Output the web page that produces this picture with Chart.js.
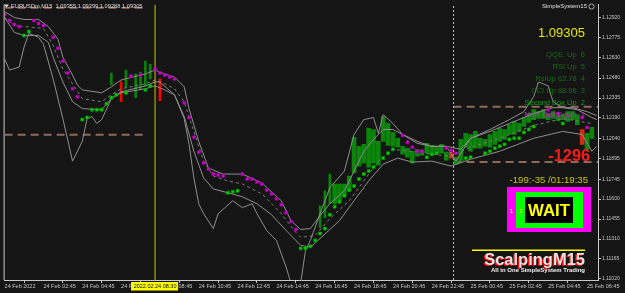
<!DOCTYPE html>
<html>
<head>
<meta charset="utf-8">
<script src="https://cdn.jsdelivr.net/npm/chart.js@4.4.0/dist/chart.umd.min.js"></script>
<style>
html, body { margin: 0; padding: 0; background: #151515; }
#wrap { width: 625px; height: 293px; }
</style>
</head>
<body>
<div id="wrap"><canvas id="mtChart" width="625" height="293"></canvas></div>
<script>
// EURUSDm M15, bar 0 = 24 Feb 00:45, one bar per 15 minutes
const xTickBars = [0, 8, 16, 24, 32, 40, 48, 56, 64, 72, 80, 88, 96, 104, 112, 120];
const xTickLabels = ['24 Feb 2022', '24 Feb 02:45', '24 Feb 04:45', '24 Feb 06:45', '24 Feb 08:45',
  '24 Feb 10:45', '24 Feb 12:45', '24 Feb 14:45', '24 Feb 16:45', '24 Feb 18:45', '24 Feb 20:45',
  '24 Feb 22:45', '25 Feb 00:45', '25 Feb 02:45', '25 Feb 04:45', '25 Feb 06:45'];
const yTicks = [1.12920, 1.12775, 1.12630, 1.12480, 1.12335, 1.12190, 1.12040, 1.11895,
  1.11745, 1.11600, 1.11455, 1.11310, 1.11165, 1.11020];
const yMin = 1.11012;
const yMax = 1.13014;
const xMax = 122.26;

// thin histogram bars (left part)
const thinBar = [22, 24, 25, 27, 28, 29, 30, 32, 65, 66, 67];
const thinLow = [1.12430, 1.12308, 1.12409, 1.12337, 1.12402, 1.12423, 1.12474, 1.12315, 1.11394, 1.11466, 1.11566];
const thinHigh = [1.12517, 1.12452, 1.12538, 1.12510, 1.12524, 1.12603, 1.12582, 1.12474, 1.11552, 1.11660, 1.11782];
const thinDown = [24, 32];

// candle bodies from bar 68 to bar 121
const bodyFirst = 68;
const bodyLow = [1.11566, 1.11588, 1.11624, 1.11660, 1.11790, 1.11840, 1.11862, 1.11833, 1.11862, 1.11847,
  1.12020, 1.11991, 1.11984, 1.11977, 1.11926, 1.11905, 1.11862, 1.11912, 1.11919, 1.11934,
  1.11926, 1.11934, 1.11934, 1.11883, 1.11898, 1.11854, 1.11876, 1.11977, 1.11948, 1.11970,
  1.11970, 1.11984, 1.11977, 1.11998, 1.12020, 1.12034, 1.12070, 1.12070, 1.12092, 1.12128,
  1.12157, 1.12178, 1.12186, 1.12186, 1.12178, 1.12186, 1.12171, 1.12178, 1.12164, 1.12178,
  1.12142, 1.11998, 1.11962, 1.12042];
const bodyHigh = [1.11710, 1.11710, 1.11710, 1.11768, 1.12049, 1.11984, 1.11998, 1.12114, 1.12106, 1.12020,
  1.12200, 1.12150, 1.12085, 1.12042, 1.11984, 1.11970, 1.11948, 1.11962, 1.11955, 1.12006,
  1.11991, 1.11984, 1.11998, 1.11941, 1.11941, 1.11905, 1.12034, 1.12078, 1.12070, 1.12092,
  1.12042, 1.12034, 1.12070, 1.12092, 1.12114, 1.12106, 1.12142, 1.12164, 1.12150, 1.12193,
  1.12222, 1.12250, 1.12236, 1.12250, 1.12222, 1.12236, 1.12222, 1.12214, 1.12236, 1.12236,
  1.12214, 1.12106, 1.12078, 1.12121];
const bodyDown = [92, 119];

// envelope lines
const upperBar = [0, 2, 4, 7, 9, 11, 12, 14, 15, 16, 20, 22, 24, 29, 31, 33, 35, 37, 38, 40, 42, 45, 49, 53, 57, 59, 61, 63, 65, 67,
  70, 72, 74, 76, 78, 80, 82, 85, 88, 91, 94, 96, 100, 104, 109, 113, 117, 120, 122];
const upperPrice = [1.12963, 1.12920, 1.12906, 1.12906, 1.12855, 1.12762, 1.12632, 1.12502, 1.12430, 1.12394,
  1.12373, 1.12416, 1.12466, 1.12510, 1.12538, 1.12510, 1.12488, 1.12416, 1.12258, 1.12020,
  1.11826, 1.11782, 1.11782, 1.11718, 1.11588, 1.11444, 1.11379, 1.11386, 1.11480, 1.11566,
  1.11660, 1.11804, 1.11948, 1.12034, 1.12106, 1.12106, 1.12070, 1.12020, 1.11984, 1.11984,
  1.11962, 1.12042, 1.12092, 1.12150, 1.12222, 1.12265, 1.12265, 1.12236, 1.12207];
const middleBar = [0, 2, 8, 10, 12, 14, 16, 20, 22, 24, 29, 31, 33, 35, 37, 39, 41, 43, 46, 49,
  53, 57, 60, 61, 64, 67, 71, 74, 77, 80, 84, 88, 92, 96, 102, 109, 115, 121];
const middlePrice = [1.12920, 1.12862, 1.12841, 1.12718, 1.12546, 1.12438, 1.12330, 1.12308, 1.12358, 1.12402,
  1.12438, 1.12466, 1.12438, 1.12402, 1.12308, 1.12092, 1.11876, 1.11768, 1.11732, 1.11710,
  1.11638, 1.11494, 1.11358, 1.11322, 1.11336, 1.11458, 1.11588, 1.11732, 1.11876, 1.11962,
  1.11948, 1.11926, 1.11912, 1.11977, 1.12042, 1.12135, 1.12186, 1.12150];
const lowerBar = [0, 2, 4, 7, 9, 10, 12, 14, 16, 20, 22, 24, 29, 31, 33, 35, 37, 39, 41, 43,
  46, 49, 52, 55, 58, 61, 63, 65, 69, 72, 75, 78, 81, 84, 88, 92, 96, 102, 109, 115, 119, 121, 122];
const lowerPrice = [1.12920, 1.12812, 1.12790, 1.12790, 1.12740, 1.12632, 1.12452, 1.12308, 1.12258, 1.12250,
  1.12330, 1.12373, 1.12402, 1.12423, 1.12394, 1.12358, 1.12200, 1.11948, 1.11754, 1.11674,
  1.11646, 1.11617, 1.11566, 1.11487, 1.11372, 1.11264, 1.11250, 1.11314, 1.11444, 1.11588,
  1.11732, 1.11854, 1.11898, 1.11869, 1.11876, 1.11840, 1.11890, 1.11948, 1.12042, 1.12092,
  1.12070, 1.11948, 1.11984];
const wildBar = [0, 1, 3, 4, 5, 7, 8, 10, 12, 14, 16, 17, 18, 19, 20, 22, 24, 29, 31, 32,
  35, 37, 38, 39, 40, 41, 43, 44, 47, 49, 51, 52, 54, 56, 58, 59, 61, 62, 63, 65,
  67, 70, 72, 74, 76, 77, 78, 80, 82, 85, 88, 91, 93, 96, 100, 104, 107, 109, 110, 112,
  113, 115, 118, 121, 122];
const wildPrice = [1.12618, 1.12538, 1.12560, 1.12704, 1.12805, 1.12776, 1.12726, 1.12474, 1.12186, 1.11876,
  1.12020, 1.12186, 1.12200, 1.12150, 1.12178, 1.12330, 1.12380, 1.12423, 1.12452, 1.12452,
  1.12358, 1.12186, 1.11998, 1.11754, 1.11566, 1.11494, 1.11386, 1.11494, 1.11588, 1.11538,
  1.11566, 1.11494, 1.11372, 1.11300, 1.11106, 1.10990, 1.10990, 1.11228, 1.11300, 1.11494,
  1.11682, 1.11804, 1.12070, 1.12178, 1.12193, 1.12078, 1.12214, 1.12150, 1.12070, 1.12006,
  1.11984, 1.11984, 1.11876, 1.12042, 1.12106, 1.12178, 1.12236, 1.12344, 1.12452, 1.12423,
  1.12308, 1.12265, 1.12250, 1.12193, 1.12178];

// signal dots
const upDotBar = [4, 5, 16, 17, 18, 19, 20, 21, 22, 23, 25, 29, 30, 46, 47, 48, 61, 62, 63, 64,
  65, 66, 67, 68, 69, 70, 71, 72, 73, 74, 75, 76, 78, 79, 80, 87, 88, 89, 95, 96,
  99, 100, 101, 102, 103, 104, 105, 106, 107, 108, 109, 115];
const upDotPrice = [1.12790, 1.12819, 1.12178, 1.12193, 1.12250, 1.12250, 1.12250, 1.12294, 1.12337, 1.12358,
  1.12373, 1.12394, 1.12423, 1.11646, 1.11653, 1.11660, 1.11242, 1.11242, 1.11257, 1.11300,
  1.11350, 1.11386, 1.11487, 1.11545, 1.11581, 1.11624, 1.11667, 1.11696, 1.11746, 1.11782,
  1.11804, 1.11833, 1.11898, 1.11934, 1.11962, 1.11905, 1.11926, 1.11934, 1.11898, 1.11905,
  1.11934, 1.11948, 1.11970, 1.11984, 1.11998, 1.12034, 1.12042, 1.12042, 1.12085, 1.12106,
  1.12128, 1.12150];
const dnDotBar = [0, 1, 2, 3, 6, 7, 8, 10, 11, 12, 13, 14, 15, 26, 28, 31, 32, 33, 34, 35,
  37, 38, 39, 40, 41, 42, 43, 44, 45, 49, 50, 51, 52, 53, 54, 55, 56, 57, 58, 59,
  60, 82, 83, 84, 85, 86, 91, 92, 93, 112, 114, 119, 120];
const dnDotPrice = [1.12942, 1.12898, 1.12870, 1.12855, 1.12898, 1.12877, 1.12862, 1.12776, 1.12697, 1.12603,
  1.12517, 1.12402, 1.12344, 1.12495, 1.12502, 1.12546, 1.12517, 1.12502, 1.12488, 1.12474,
  1.12301, 1.12193, 1.12049, 1.11941, 1.11862, 1.11818, 1.11782, 1.11775, 1.11768, 1.11782,
  1.11746, 1.11746, 1.11725, 1.11710, 1.11667, 1.11638, 1.11602, 1.11559, 1.11502, 1.11437,
  1.11379, 1.12063, 1.12013, 1.11977, 1.11948, 1.11948, 1.11970, 1.11955, 1.11934, 1.12250,
  1.12222, 1.12193, 1.12121];

// horizontal levels and vertical markers
const levelPrice = [1.12992, 1.12067, 1.12272, 1.11869];
const levelFrom = [0, 0, 92.5, 92.5];
const levelTo = [29, 29, xMax, xMax];
const cursorBar = 31;      // 2022.02.24 08:30
const separatorBar = 92.5; // 25 Feb

const pts = (xs, ys) => xs.map((x, i) => ({ x: x, y: ys[i] }));

const thinData = dir => thinBar.map((b, i) => ({ x: b, y: [thinLow[i], thinHigh[i]] }))
  .filter(p => thinDown.includes(p.x) === (dir === 'down'));
const bodyData = dir => bodyLow.map((lo, i) => ({ x: bodyFirst + i, y: [lo, bodyHigh[i]] }))
  .filter(p => bodyDown.includes(p.x) === (dir === 'down'));

const datasets = [];
levelPrice.forEach((p, i) => {
  datasets.push({
    type: 'line', data: [{ x: levelFrom[i], y: p }, { x: levelTo[i], y: p }],
    borderColor: '#8f6a58', borderWidth: 2, borderDash: [8, 5], pointRadius: 0, order: 9
  });
});
datasets.push({
  type: 'line', data: [{ x: separatorBar, y: yMin }, { x: separatorBar, y: yMax }],
  borderColor: '#c8c8c8', borderWidth: 1, borderDash: [2, 2], pointRadius: 0, order: 8
});
datasets.push({ type: 'bar', data: thinData('up'), backgroundColor: '#0a820a', barThickness: 2, grouped: false, order: 6 });
datasets.push({ type: 'bar', data: thinData('down'), backgroundColor: '#ff0000', barThickness: 2, grouped: false, order: 6 });
datasets.push({ type: 'bar', data: bodyData('up'), backgroundColor: '#0b860b', borderWidth: 0, barThickness: 4, grouped: false, order: 6 });
datasets.push({ type: 'bar', data: bodyData('down'), backgroundColor: '#d42a10', barThickness: 4, grouped: false, order: 6 });
datasets.push({ type: 'line', data: pts(wildBar, wildPrice), borderColor: '#8e8e8e', borderWidth: 1, pointRadius: 0, order: 4 });
datasets.push({ type: 'line', data: pts(upperBar, upperPrice), borderColor: '#8e8e8e', borderWidth: 1, pointRadius: 0, order: 4 });
datasets.push({ type: 'line', data: pts(lowerBar, lowerPrice), borderColor: '#8e8e8e', borderWidth: 1, pointRadius: 0, order: 4 });
datasets.push({ type: 'line', data: pts(middleBar, middlePrice), borderColor: '#7c7c7c', borderWidth: 1, borderDash: [3, 3], pointRadius: 0, order: 4 });
datasets.push({
  type: 'line', data: [{ x: cursorBar, y: yMin }, { x: cursorBar, y: yMax }],
  borderColor: '#c8c800', borderWidth: 1, pointRadius: 0, order: 3
});
datasets.push({
  type: 'scatter', data: pts(upDotBar, upDotPrice), showLine: false,
  pointStyle: 'rect', pointRadius: 2.1, backgroundColor: '#00d800', borderColor: '#009000', borderWidth: 0.6, order: 1
});
datasets.push({
  type: 'scatter', data: pts(dnDotBar, dnDotPrice), showLine: false,
  pointStyle: 'rect', pointRadius: 2.1, backgroundColor: '#d800d8', borderColor: '#900090', borderWidth: 0.6, order: 1
});

const overlay = {
  id: 'overlay',
  beforeDraw(chart) {
    const c = chart.ctx;
    c.save();
    c.fillStyle = '#151515';
    c.fillRect(0, 0, chart.width, chart.height);
    c.restore();
  },
  afterDraw(chart) {
    const c = chart.ctx;
    const area = chart.chartArea;
    const xs = chart.scales.x;
    const txt = (s, x, y, font, color, align) => {
      c.font = font;
      c.fillStyle = color;
      c.textAlign = align || 'left';
      c.textBaseline = 'middle';
      c.fillText(s, x, y);
    };
    c.save();
    // left frame
    c.strokeStyle = '#c8c8c8';
    c.lineWidth = 1;
    c.beginPath();
    c.moveTo(area.left - 0.5, area.top);
    c.lineTo(area.left - 0.5, area.bottom);
    c.stroke();

    // header
    c.fillStyle = '#dcdcdc';
    c.beginPath();
    c.moveTo(4, 4.5); c.lineTo(9, 4.5); c.lineTo(6.5, 7.5); c.closePath(); c.fill();
    txt('EURUSDm,M15  1.09355 1.09399 1.09288 1.09305', 11, 6, '5.7px "Liberation Sans"', '#dcdcdc');

    // top right caption
    txt('SimpleSystem15', 587, 6.5, '6px "Liberation Sans"', '#e0e0e0', 'right');
    c.strokeStyle = '#d0d0d0';
    c.lineWidth = 0.8;
    c.beginPath(); c.arc(591.5, 6.5, 2.6, 0, Math.PI * 2); c.stroke();

    // panel texts
    txt('1.09305', 585, 33, '13px "Liberation Sans"', '#e6e600', 'right');
    const f7 = '7.5px "Liberation Sans"';
    txt('QQE  Up  6', 585, 54.5, f7, '#137013', 'right');
    txt('RSI Up  5', 585, 66.5, f7, '#137013', 'right');
    txt('RsiUp 63.78  4', 585, 79, f7, '#137013', 'right');
    txt('CCI Up 88.96  3', 585, 90.5, f7, '#137013', 'right');
    txt('Second Box Up  2', 585, 103, f7, '#14a014', 'right');
    txt('Main Box Down  1', 585, 115, f7, '#cc22cc', 'right');
    txt('-1296', 590, 157, 'bold 16.3px "Liberation Sans"', '#ff1a1a', 'right');
    txt('-199:-35 /01:19:35', 588, 180.5, '9.6px "Liberation Sans"', '#c8c814', 'right');

    // WAIT box
    c.fillStyle = '#ff00ff'; c.fillRect(507, 187, 84, 45);
    c.fillStyle = '#00ff00'; c.fillRect(516, 192, 67, 36);
    c.fillStyle = '#000000'; c.fillRect(525, 197, 48, 26);
    txt('WAIT', 549, 211, 'bold 16.8px "Liberation Sans"', '#ffff00', 'center');
    txt('1', 511.5, 211, 'bold 6px "Liberation Sans"', '#ffff40', 'center');
    txt('2', 521, 211, 'bold 6px "Liberation Sans"', '#e0e000', 'center');

    // logo
    c.fillStyle = '#ffff00';
    c.fillRect(472, 249.5, 113, 1.5);
    txt('ScalpingM15', 583.5, 261.5, 'bold 16.5px "Liberation Sans"', '#ff0000', 'right');
    txt('ScalpingM15', 585, 260, 'bold 16.5px "Liberation Sans"', '#e6e6e6', 'right');
    txt('All in One SimpleSystem Trading', 585, 270.5, 'bold 6px "Liberation Sans"', '#f0f0f0', 'right');

    // cursor time label on the time axis
    const cx = xs.getPixelForValue(cursorBar);
    c.fillStyle = '#ffff00';
    c.fillRect(cx - 24, 282, 47, 8.5);
    txt('2022.02.24 08:30', cx, 286.5, '5.5px "Liberation Sans"', '#000000', 'center');
    c.restore();
  }
};

new Chart(document.getElementById('mtChart'), {
  type: 'line',
  data: { datasets: datasets },
  options: {
    responsive: false,
    animation: false,
    events: [],
    devicePixelRatio: 1,
    layout: { padding: { left: 2, top: 2, right: 0, bottom: 0 } },
    plugins: { legend: { display: false }, tooltip: { enabled: false } },
    scales: {
      x: {
        type: 'linear', min: 0, max: xMax, offset: false,
        afterBuildTicks: s => { s.ticks = xTickBars.map(v => ({ value: v })); },
        afterFit: s => { s.height = 13; },
        ticks: {
          align: 'start', autoSkip: false, maxRotation: 0, padding: 0,
          color: '#c8c8c8', font: { family: 'Liberation Sans', size: 5.5 },
          callback: (v, i) => xTickLabels[i]
        },
        grid: { drawOnChartArea: false, color: '#c8c8c8', tickLength: 3 },
        border: { color: '#c8c8c8' }
      },
      y: {
        type: 'linear', position: 'right', min: yMin, max: yMax,
        afterBuildTicks: s => { s.ticks = yTicks.map(v => ({ value: v })); },
        afterFit: s => { s.width = 27; },
        ticks: {
          padding: 1, color: '#c8c8c8', font: { family: 'Liberation Sans', size: 5 },
          callback: v => v.toFixed(5)
        },
        grid: { drawOnChartArea: false, color: '#c8c8c8', tickLength: 3 },
        border: { color: '#c8c8c8' }
      }
    }
  },
  plugins: [overlay]
});
</script>
</body>
</html>
